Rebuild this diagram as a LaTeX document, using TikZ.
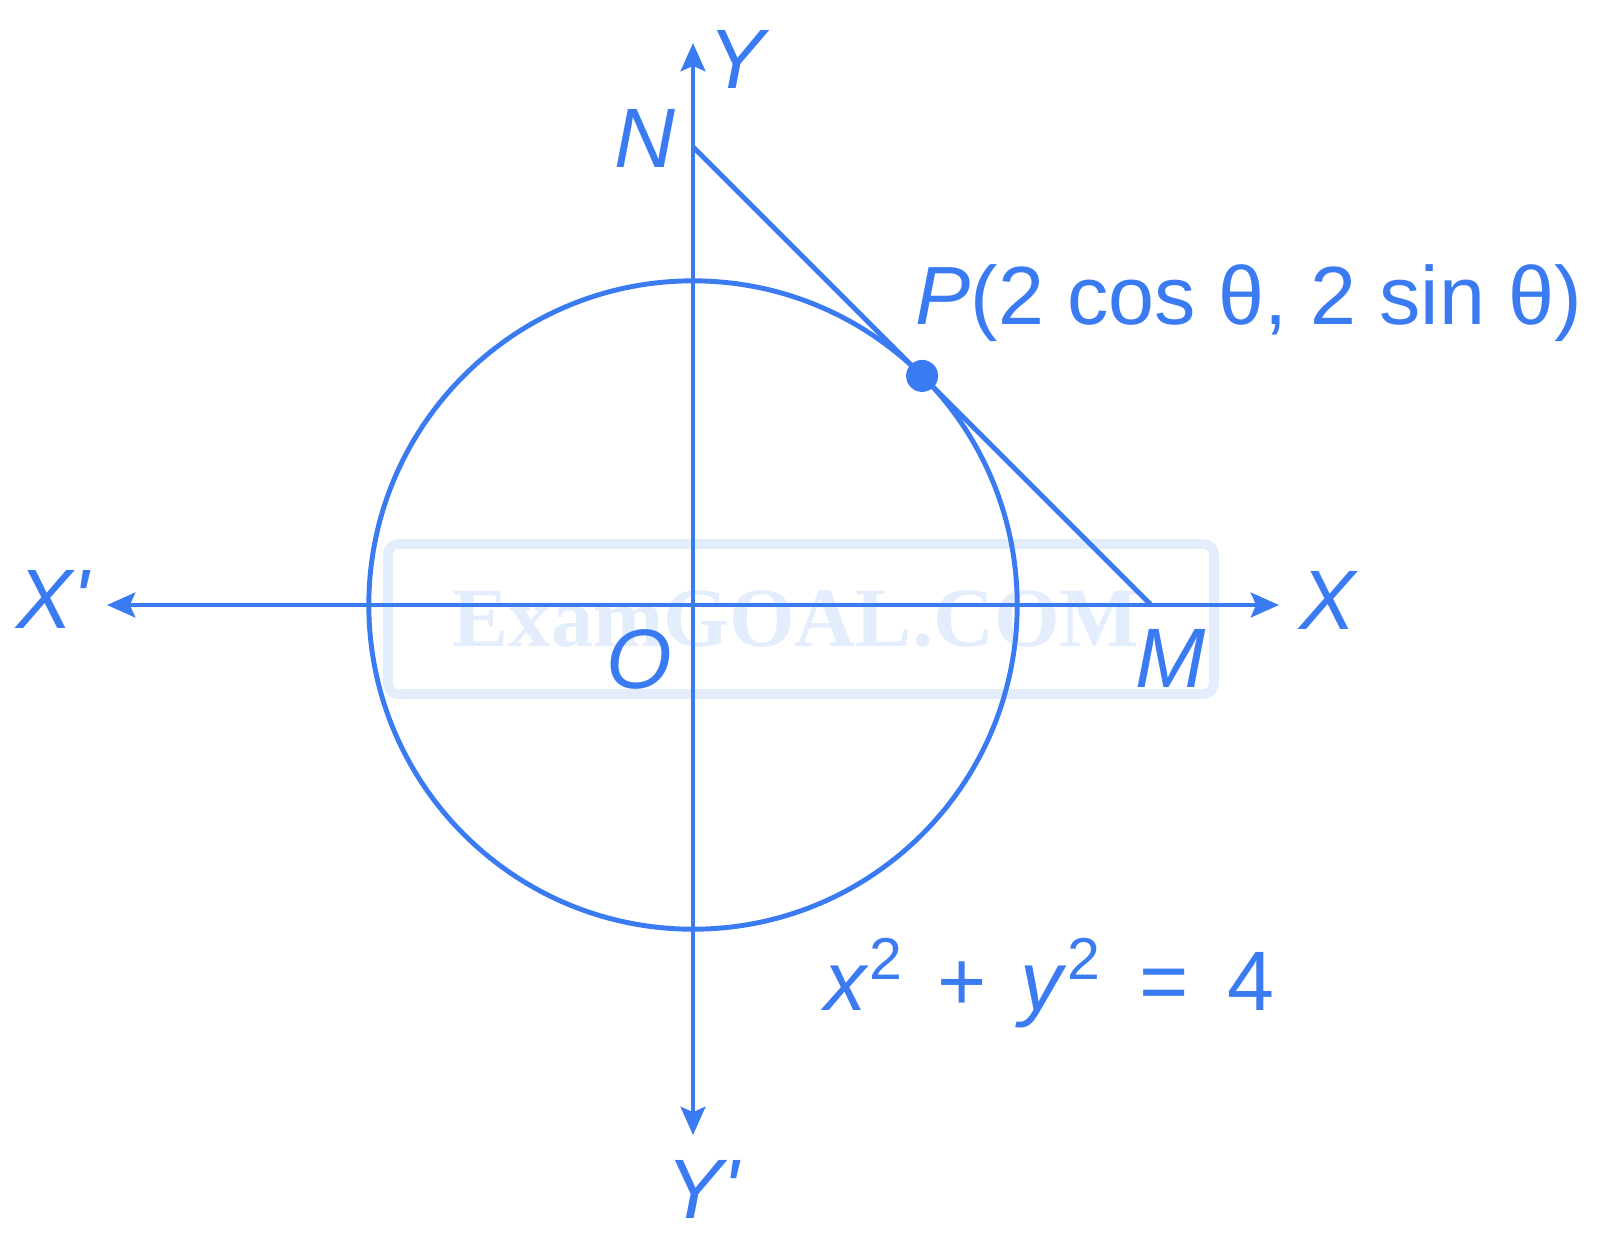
\documentclass[tikz,border=0pt]{standalone}
\usepackage{fontspec}
\setmainfont{Liberation Sans}
\newfontfamily\markfont{Liberation Serif}
\usetikzlibrary{arrows.meta}
\definecolor{penblue}{HTML}{3B7BF2}
\definecolor{markblue}{HTML}{E4EDFC}

\tikzstyle{curve} = [draw=penblue,line width=1.4pt]
\tikzstyle{axis} = [curve,{Stealth[length=8pt,width=7pt,inset=1.5pt]}-{Stealth[length=8pt,width=7pt,inset=1.5pt]}]
\tikzstyle{lbl} = [text=penblue,font=\fontsize{24}{28}\selectfont,inner sep=0pt]

\begin{document}
\begin{tikzpicture}[x=0.01cm,y=-0.01cm]
	\useasboundingbox (0,0) rectangle (1600,1238);
	% watermark
	\draw [markblue,line width=2.8pt,rounded corners=3pt] (388,544) rectangle (1214,694);
	\node (mark) at (796,619) [text=markblue,font=\markfont\bfseries\fontsize{24}{28}\selectfont,inner sep=0pt] {ExamGOAL.COM};
	% points
	\coordinate (O) at (693,605);
	\coordinate (xl) at (107,605);
	\coordinate (xr) at (1279,605);
	\coordinate (yt) at (693,43);
	\coordinate (yb) at (693,1135);
	\coordinate (N) at (693,146.8);
	\coordinate (M) at (1151.2,605);
	\coordinate (P) at (922.1,375.9);
	% axes
	\draw [axis] (xl) -- (xr);
	\draw [axis] (yb) -- (yt);
	% circle and tangent
	\draw [curve] (O) circle (3.24cm);
	\draw [curve] (N) -- (M);
	\fill [penblue] (P) circle (0.16cm);
	% labels
	\node (lX') [lbl] at (54,599) {\textit{X\textquotesingle}};
	\node (lX) [lbl] at (1329,600) {\textit{X}};
	\node (lY) [lbl] at (739,59) {\textit{Y}};
	\node (lY') [lbl] at (704,1189) {\textit{Y\textquotesingle}};
	\node (lN) [lbl] at (645,138) {\textit{N}};
	\node (lO) [lbl] at (639,659) {\textit{O}};
	\node (lM) [lbl] at (1171,658) {\textit{M}};
	\node (lP) [lbl,anchor=west,font=\fontsize{23.5}{28}\selectfont] at (915,303) {\textit{P}(2 cos θ, 2 sin θ)};
	\node (eq) [lbl,anchor=west] at (824,983) {\textit{x}\textsuperscript{2}\hspace{0.4em}+\hspace{0.4em}\textit{y}\textsuperscript{2}\hspace{0.45em}=\hspace{0.45em}4};
\end{tikzpicture}
\end{document}
